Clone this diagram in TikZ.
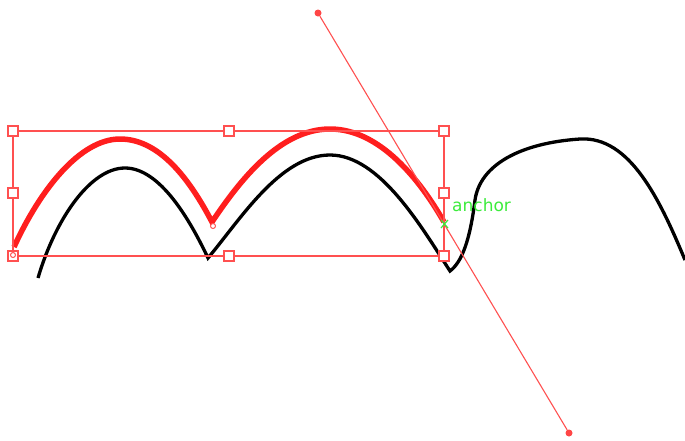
\documentclass[tikz,border=0pt]{standalone}
\usepackage{fontspec}
\setmainfont{DejaVu Sans}
\definecolor{selcol}{RGB}{255,80,80}
\definecolor{curvered}{RGB}{255,30,30}
\definecolor{dotred}{RGB}{255,70,70}
\definecolor{ancgreen}{RGB}{60,235,60}
\begin{document}
\begin{tikzpicture}[x=1pt,y=-1pt,
  selred/.style={draw=selcol},
  handle/.style={draw=selcol,fill=white,minimum size=10pt,inner sep=0pt,line width=1.3pt},
  tinyring/.style={draw=selcol,fill=white,circle,minimum size=5pt,inner sep=0pt,line width=1pt},
  enddot/.style={fill=dotred,circle,minimum size=7pt,inner sep=0pt}]
\useasboundingbox (0,0) rectangle (685,440);
% black curve
\draw[line width=3.3pt, black] (38,278) .. controls (55,220) and (90,168) .. (125,168)
  .. controls (160,168) and (190,220) .. (208,258)
  .. controls (240,220) and (280,155) .. (330,155)
  .. controls (380,155) and (422,228) .. (450,271)
  .. controls (462,262) and (470,240) .. (475,200)
  .. controls (480,165) and (520,143) .. (580,139)
  .. controls (630,136) and (660,200) .. (685,260);
% red curve
\draw[line width=5.5pt, curvered] (14,247) .. controls (40,190) and (80,139) .. (120,139)
  .. controls (160,139) and (190,180) .. (212,222)
  .. controls (240,180) and (280,129) .. (330,129)
  .. controls (380,129) and (420,180) .. (444,222);
% selection rectangle
\draw[selred, line width=1.4pt] (13,131) rectangle (444,256);
% line
\node[enddot] (p1) at (318,13) {};
\node[enddot] (p2) at (569,433) {};
\draw[selred, line width=1.1pt] (p1) -- (p2);
% handles
\foreach \n/\x/\y in {a/13/131,b/229/131,c/444/131,d/13/193,e/444/193,f/13/256,g/229/256,h/444/256}
  \node[handle] (\n) at (\x,\y) {};
\node[tinyring] (r1) at (13,255) {};
\node[tinyring] (r2) at (213,226) {};
% anchor
\node[text=ancgreen, font=\fontsize{17}{18}\selectfont, anchor=west, inner sep=0pt] (anc) at (452,205) {anchor};
\draw[ancgreen, line width=1.2pt] (441,220) -- (448,228) (441,228) -- (448,220);
\end{tikzpicture}
\end{document}
